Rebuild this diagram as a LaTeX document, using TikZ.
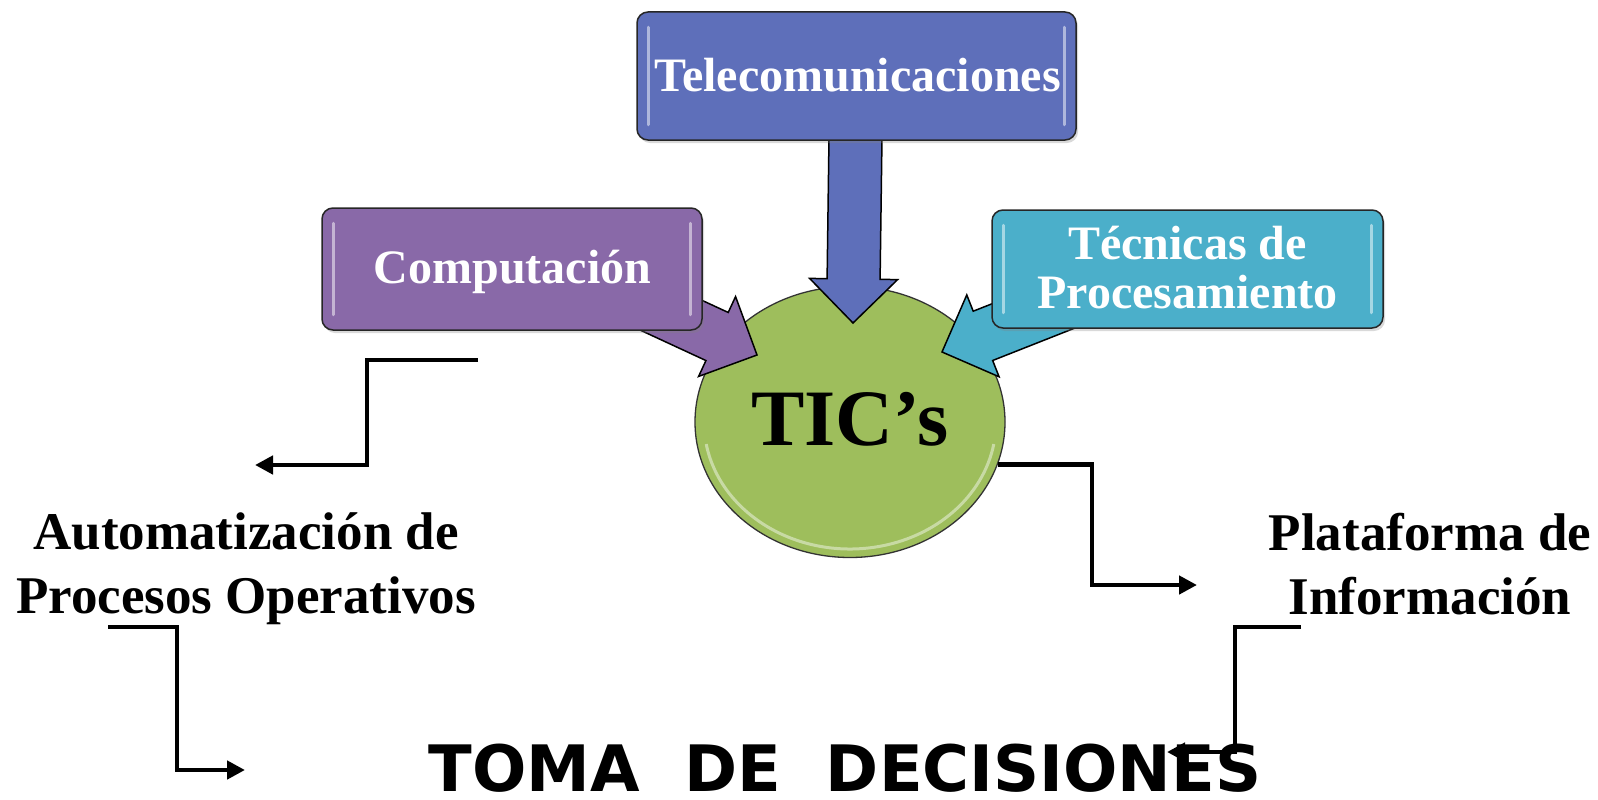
\documentclass[tikz,border=0pt]{standalone}
\usepackage{fontspec}
\setmainfont{Liberation Serif}
\newfontfamily\djv{DejaVu Sans}
\usetikzlibrary{calc,arrows.meta,shadows,shapes.geometric}
\pgfdeclarelayer{circlayer}
\pgfdeclarelayer{arrlayer}
\pgfsetlayers{circlayer,arrlayer,main}

\definecolor{telec}{RGB}{94,111,186}
\definecolor{compu}{RGB}{137,105,168}
\definecolor{tecni}{RGB}{75,175,202}
\definecolor{ticg}{RGB}{158,190,92}

\tikzset{
  boxsty/.style={draw=black!85, line width=1.5pt, rounded corners=11pt, inner sep=0pt,
    drop shadow={shadow xshift=2pt,shadow yshift=-3pt,opacity=0.3}},
  boxtxt/.style={text=white, font=\fontsize{48}{49}\selectfont\bfseries, inner sep=0pt, align=center},
  blockarr/.style={draw=black, line width=1.5pt, line join=miter},
  conn/.style={line width=4.5pt, -{Triangle[length=18pt,width=18pt]}},
  bigtext/.style={font=\fontsize{53}{64}\selectfont\bfseries, align=center, inner sep=0pt},
  hl/.style={white, opacity=0.5, line width=3pt, line cap=round},
}

\newcommand\myblockarrow[3]{%
  \coordinate (bB) at ($(#2)!44pt!(#1)$);
  \draw[blockarr, fill=#3]
    ($(#1)!26.5pt!90:(#2)$) -- ($(bB)!26.5pt!90:(#2)$) -- ($(bB)!44pt!90:(#2)$) -- (#2)
    -- ($(bB)!44pt!-90:(#2)$) -- ($(bB)!26.5pt!-90:(#2)$) -- ($(#1)!26.5pt!-90:(#2)$) -- cycle;}

\begin{document}
\begin{tikzpicture}[x=1pt,y=-1pt]
\useasboundingbox (0,0) rectangle (1598,800);

% circle
\begin{pgfonlayer}{circlayer}
\node[ellipse, draw=black!80, line width=1.3pt, fill=ticg, minimum width=310pt, minimum height=271pt, inner sep=0pt] (tic) at (850,422) {};
\draw[ticg!45!white, line width=3pt, opacity=0.8]
  ($(tic.center)+(170:146 and 127)$) arc[start angle=170, end angle=10, x radius=146, y radius=127];
\end{pgfonlayer}

% boxes
\node[boxsty, fill=telec, minimum width=439pt, minimum height=128pt] (tel) at (856.5,76) {};
\node[boxsty, fill=compu, minimum width=380pt, minimum height=122pt] (com) at (512,269) {};
\node[boxsty, fill=tecni, minimum width=391pt, minimum height=118pt] (tec) at (1187.5,269) {};

\foreach \b in {tel,com,tec}{
  \draw[hl] ($(\b.north west)+(12,16)$) -- ($(\b.south west)+(12,-16)$);
  \draw[hl] ($(\b.north east)+(-12,16)$) -- ($(\b.south east)+(-12,-16)$);
}

% block arrows
\coordinate (telS) at (856,100);
\coordinate (telT) at (853,323);
\coordinate (comS) at (608,286);
\coordinate (comT) at (757,355);
\coordinate (tecS) at (1094,292);
\coordinate (tecT) at (942,352);
\begin{pgfonlayer}{arrlayer}
\myblockarrow{telS}{telT}{telec}
\myblockarrow{comS}{comT}{compu}
\myblockarrow{tecS}{tecT}{tecni}
\end{pgfonlayer}

% box texts
\node[boxtxt, anchor=base] (teltxt) at (857.5,92) {Telecomunicaciones};
\node[boxtxt, anchor=base] (comtxt) at (512.5,283) {Computación};
\node[boxtxt, anchor=base] (tectxt) at (1187.5,308) {Técnicas de\\Procesamiento};

% TIC's
\node[font=\fontsize{80}{80}\selectfont\bfseries, anchor=base, inner sep=0pt] (tictxt) at (850,445) {TIC’s};

% side texts
\node[bigtext, anchor=base] (auto) at (246,613) {Automatización de\\Procesos Operativos};
\node[bigtext, anchor=base] (plat) at (1430,614) {Plataforma de\\Información};
\node[font=\djv\fontsize{64}{64}\selectfont\bfseries, anchor=base, inner sep=0pt] (toma) at (845,791) {TOMA\ \ DE\ \ DECISIONES};

% connectors
\coordinate (l1s) at (478,360);
\coordinate (l1c) at (367,465);
\coordinate (l1e) at (255,465);
\draw[conn] (l1s) -| (l1c) -- (l1e);

\coordinate (l2s) at (108,627);
\coordinate (l2c) at (177,770);
\coordinate (l2e) at (245,770);
\draw[conn] (l2s) -| (l2c) -- (l2e);

\coordinate (r1c) at (1092,585);
\coordinate (r1e) at (1197,585);
\draw[conn] (tic.-16) -| (r1c) -- (r1e);

\coordinate (r2s) at (1301,627);
\coordinate (r2c) at (1235,752);
\coordinate (r2e) at (1167,752);
\draw[conn] (r2s) -| (r2c) -- (r2e);
\end{tikzpicture}
\end{document}
